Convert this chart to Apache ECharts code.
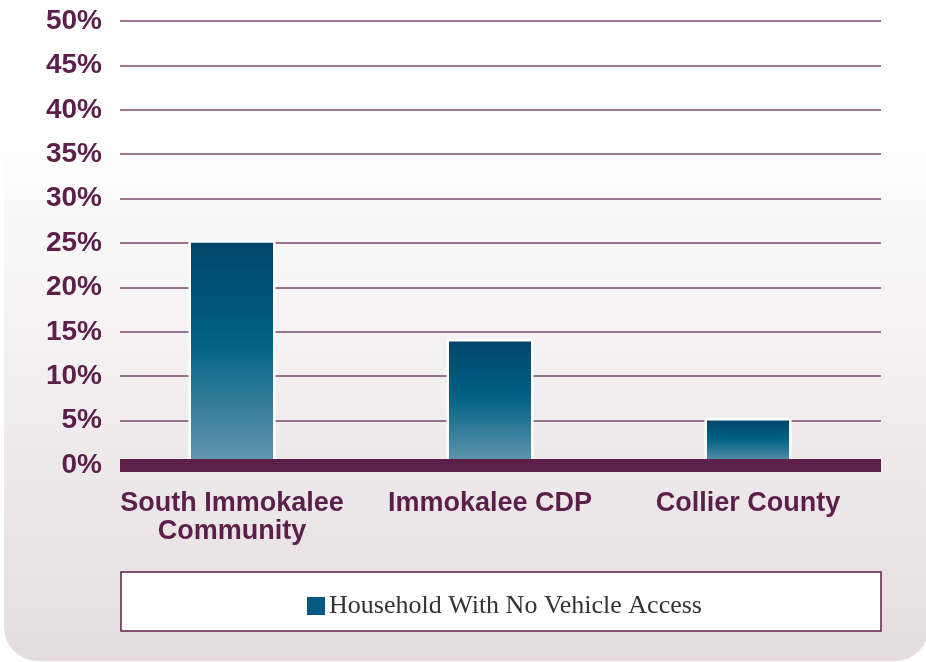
<!DOCTYPE html>
<html>
<head>
<meta charset="utf-8">
<script src="https://cdn.jsdelivr.net/npm/echarts@6/dist/echarts.min.js"></script>
<style>html,body{margin:0;padding:0;background:#fff;}#c{width:926px;height:662px;}</style>
</head>
<body>
<div id="c"></div>
<script>
var categories = ['South Immokalee\nCommunity', 'Immokalee CDP', 'Collier County'];
var seriesName = 'Household With No Vehicle Access';
var values = [25.3, 14.2, 5.3];
var yMax = 50;
var yStep = 5;

var chart = echarts.init(document.getElementById('c'), null, {renderer: 'canvas'});
var labelColor = '#5c1f49';
var option = {
  animation: false,
  backgroundColor: '#ffffff',
  graphic: [
    {
      type: 'rect', z: -10, silent: true,
      shape: {x: 4, y: 150, width: 925, height: 511, r: [0, 0, 34, 34]},
      style: {
        fill: {type: 'linear', x: 0, y: 0, x2: 0, y2: 1, colorStops: [
          {offset: 0, color: '#ffffff'},
          {offset: 0.15, color: '#f9f8f8'},
          {offset: 0.6, color: '#eeeaeb'},
          {offset: 1, color: '#e5dce0'}
        ]}
      }
    },
    {
      type: 'rect', z: -5, silent: true,
      shape: {x: 121, y: 572, width: 760, height: 59},
      style: {fill: '#ffffff', stroke: '#5c1f49', lineWidth: 1.5}
    }
  ],
  legend: {
    data: [{name: seriesName, itemStyle: {color: '#005b82', borderWidth: 0}}],
    left: 302, top: 588,
    icon: 'rect', itemWidth: 18, itemHeight: 18, itemGap: 6,
    textStyle: {fontFamily: '"Liberation Serif", "DejaVu Serif", serif', fontSize: 26, color: '#333333', padding: [0, 0, 0, -1]}
  },
  grid: [
    {left: 120, right: 45, top: 21, bottom: 197, containLabel: false},
    {left: 103, right: 49, top: 21, bottom: 197, containLabel: false}
  ],
  xAxis: [
    {
      gridIndex: 0, type: 'category', data: categories, z: 5,
      axisLine: {show: true, lineStyle: {color: '#5c1f4a', width: 13, cap: 'butt'}},
      axisTick: {show: false}, axisLabel: {show: false}, splitLine: {show: false}
    },
    {
      gridIndex: 1, type: 'category', data: categories,
      axisLine: {show: false}, axisTick: {show: false},
      axisLabel: {
        margin: 25, color: labelColor, fontWeight: 'bold', fontSize: 27, lineHeight: 28,
        fontFamily: '"Liberation Sans", Arial, sans-serif', interval: 0
      }
    }
  ],
  yAxis: [
    {
      gridIndex: 0, type: 'value', min: 0, max: yMax, interval: yStep,
      axisLine: {show: false}, axisTick: {show: false},
      axisLabel: {
        formatter: '{value}%', margin: 18, color: labelColor, fontWeight: 'bold', fontSize: 28,
        fontFamily: '"Liberation Sans", Arial, sans-serif'
      },
      splitLine: {show: true, lineStyle: {color: '#7a4a6c', width: 1.6}}
    },
    {
      gridIndex: 1, type: 'value', min: 0, max: yMax, interval: yStep, show: false,
      splitLine: {show: false}
    }
  ],
  series: [
    {
      name: seriesName, type: 'bar', xAxisIndex: 1, yAxisIndex: 1,
      data: values, barWidth: 87, z: 2,
      itemStyle: {
        borderColor: '#ffffff', borderWidth: 2.5,
        color: {type: 'linear', x: 0, y: 0, x2: 0, y2: 1, colorStops: [
          {offset: 0, color: '#004569'},
          {offset: 0.45, color: '#006184'},
          {offset: 1, color: '#6797b1'}
        ]}
      }
    }
  ]
};
chart.setOption(option);
</script>
</body>
</html>
